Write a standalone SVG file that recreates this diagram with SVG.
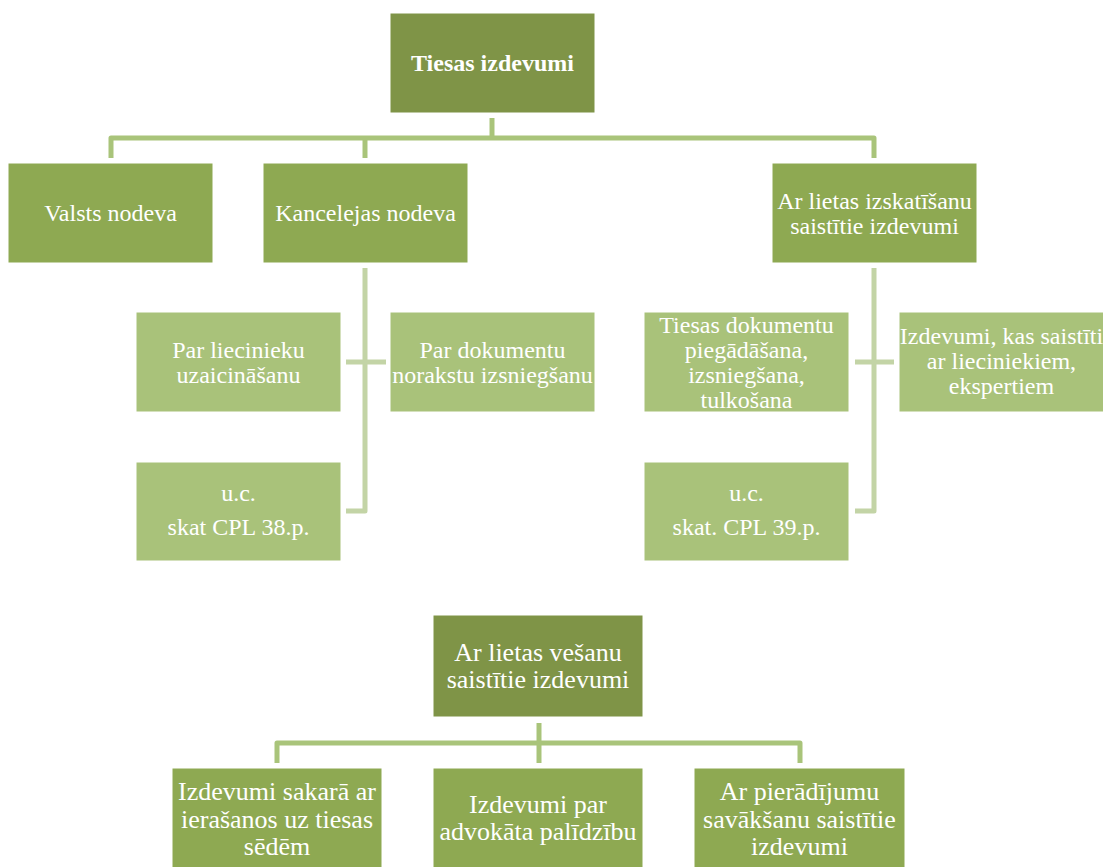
<svg xmlns="http://www.w3.org/2000/svg" width="1103" height="867" viewBox="0 0 1103 867">
<style>
  .dk { fill: #7f9447; stroke: #ffffff; stroke-width: 1; }
  .md { fill: #8ea952; stroke: #ffffff; stroke-width: 1; }
  .lt { fill: #a9c27a; stroke: #ffffff; stroke-width: 1; }
  text { font-family: "Liberation Serif", "Times New Roman", serif; fill: #ffffff; text-anchor: middle; font-size: 24px; }
  .b { font-weight: bold; }
  .big { font-size: 26px; }
  .c1 { fill: none; stroke: #a9c47a; stroke-width: 5; stroke-linejoin: round; }
  .c2 { fill: none; stroke: #c3d4a6; stroke-width: 5; stroke-linejoin: round; }
</style>
<rect width="1103" height="867" fill="#ffffff"/>
<g id="connectors">
  <path class="c1" d="M492,118 V138"/>
  <path class="c1" d="M111,158 V138 H874 V158"/>
  <path class="c1" d="M365,138 V158"/>
  <path class="c2" d="M365,268 V511 H346"/>
  <path class="c2" d="M346,362 H386"/>
  <path class="c2" d="M874,268 V511 H855"/>
  <path class="c2" d="M855,362 H894"/>
  <path class="c1" d="M539,723 V743"/>
  <path class="c1" d="M277,763 V743 H800 V763"/>
  <path class="c1" d="M539,743 V763"/>
</g>
<g id="n-root">
  <rect class="dk" x="390" y="13" width="205" height="100"/>
  <text class="b" x="492.5" y="71">Tiesas izdevumi</text>
</g>
<g id="n-valsts">
  <rect class="md" x="8" y="163" width="205" height="100"/>
  <text x="110.5" y="221">Valsts nodeva</text>
</g>
<g id="n-kanc">
  <rect class="md" x="263" y="163" width="205" height="100"/>
  <text x="365.5" y="221">Kancelejas nodeva</text>
</g>
<g id="n-izsk">
  <rect class="md" x="772" y="163" width="205" height="100"/>
  <text x="874.5" y="208.5">Ar lietas izskatīšanu</text>
  <text x="874.5" y="233.5">saistītie izdevumi</text>
</g>
<g id="n-liec">
  <rect class="lt" x="136" y="312" width="205" height="100"/>
  <text x="238.5" y="357.5">Par liecinieku</text>
  <text x="238.5" y="382.5">uzaicināšanu</text>
</g>
<g id="n-dok">
  <rect class="lt" x="390" y="312" width="205" height="100"/>
  <text x="492.5" y="357.5">Par dokumentu</text>
  <text x="492.5" y="382.5">norakstu izsniegšanu</text>
</g>
<g id="n-uc38">
  <rect class="lt" x="136" y="462" width="205" height="99"/>
  <text x="238.5" y="501">u.c.</text>
  <text x="238.5" y="535">skat CPL 38.p.</text>
</g>
<g id="n-tdok">
  <rect class="lt" x="644" y="312" width="205" height="100"/>
  <text x="746.5" y="332.5">Tiesas dokumentu</text>
  <text x="746.5" y="357.5">piegādāšana,</text>
  <text x="746.5" y="382.5">izsniegšana,</text>
  <text x="746.5" y="407.5">tulkošana</text>
</g>
<g id="n-liecekspert">
  <rect class="lt" x="899" y="312" width="206" height="100"/>
  <text x="1001.5" y="344">Izdevumi, kas saistīti</text>
  <text x="1001.5" y="369">ar lieciniekiem,</text>
  <text x="1001.5" y="394">ekspertiem</text>
</g>
<g id="n-uc39">
  <rect class="lt" x="644" y="462" width="205" height="99"/>
  <text x="746.5" y="501">u.c.</text>
  <text x="746.5" y="535">skat. CPL 39.p.</text>
</g>
<g id="n-vesanu">
  <rect class="dk" x="433" y="615" width="210" height="102"/>
  <text class="big" x="538" y="660.5">Ar lietas vešanu</text>
  <text class="big" x="538" y="688">saistītie izdevumi</text>
</g>
<g id="n-ierasanos">
  <rect class="md" x="172" y="768" width="210" height="103"/>
  <text class="big" x="277" y="800">Izdevumi sakarā ar</text>
  <text class="big" x="277" y="828">ierašanos uz tiesas</text>
  <text class="big" x="277" y="855">sēdēm</text>
</g>
<g id="n-advokats">
  <rect class="md" x="433" y="768" width="210" height="103"/>
  <text class="big" x="538" y="813">Izdevumi par</text>
  <text class="big" x="538" y="840">advokāta palīdzību</text>
</g>
<g id="n-pieradijumi">
  <rect class="md" x="694" y="768" width="211" height="103"/>
  <text class="big" x="799.5" y="800">Ar pierādījumu</text>
  <text class="big" x="799.5" y="828">savākšanu saistītie</text>
  <text class="big" x="799.5" y="855">izdevumi</text>
</g>
</svg>
